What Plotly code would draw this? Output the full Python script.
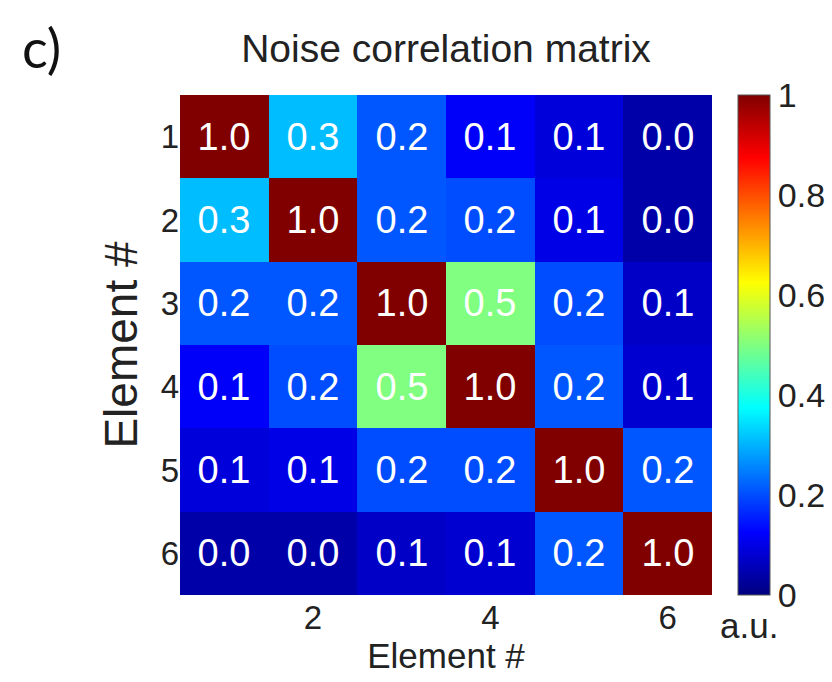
import plotly.graph_objects as go

elements = [1, 2, 3, 4, 5, 6]
x_tick_vals = [2, 4, 6]
cbar_tick_vals = [0, 0.2, 0.4, 0.6, 0.8, 1]
cbar_tick_text = ["0", "0.2", "0.4", "0.6", "0.8", "1"]

row1 = [1.00, 0.31, 0.21, 0.12, 0.09, 0.04]
row2 = [0.31, 1.00, 0.21, 0.20, 0.10, 0.04]
row3 = [0.21, 0.21, 1.00, 0.50, 0.20, 0.07]
row4 = [0.12, 0.20, 0.50, 1.00, 0.21, 0.08]
row5 = [0.09, 0.10, 0.20, 0.20, 1.00, 0.21]
row6 = [0.04, 0.04, 0.07, 0.08, 0.21, 1.00]
z = [row1, row2, row3, row4, row5, row6]

jet = [
    [0.0, "rgb(0,0,128)"],
    [0.125, "rgb(0,0,255)"],
    [0.375, "rgb(0,255,255)"],
    [0.625, "rgb(255,255,0)"],
    [0.875, "rgb(255,0,0)"],
    [1.0, "rgb(128,0,0)"],
]

FONT = "Liberation Sans, Arial, Helvetica, sans-serif"

fig = go.Figure(
    go.Heatmap(
        z=z,
        x=elements,
        y=elements,
        zmin=0,
        zmax=1,
        colorscale=jet,
        texttemplate="%{z:.1f}",
        textfont=dict(family=FONT, size=38, color="white"),
        colorbar=dict(
            x=(738 - 180) / 532,
            xanchor="left",
            xpad=0,
            y=0.5,
            yanchor="middle",
            len=1,
            lenmode="fraction",
            ypad=0,
            thickness=32,
            outlinewidth=1,
            outlinecolor="#555555",
            tickvals=cbar_tick_vals,
            ticktext=cbar_tick_text,
            ticks="",
            tickfont=dict(family=FONT, size=34, color="#222222"),
        ),
        hoverongaps=False,
    )
)

fig.update_layout(
    width=832,
    height=682,
    margin=dict(l=180, r=120, t=95, b=87, autoexpand=False),
    paper_bgcolor="white",
    plot_bgcolor="white",
    font=dict(family=FONT, color="#222222"),
    title=dict(
        text="Noise correlation matrix",
        x=446 / 832,
        xanchor="center",
        y=1 - 48 / 682,
        yanchor="middle",
        font=dict(family=FONT, size=39, color="#222222"),
    ),
    xaxis=dict(
        range=[0.5, 6.5],
        tickvals=x_tick_vals,
        ticks="",
        showgrid=False,
        zeroline=False,
        tickfont=dict(family=FONT, size=33, color="#222222"),
        title=dict(text="Element #", font=dict(family=FONT, size=35, color="#222222"), standoff=6),
    ),
    yaxis=dict(
        range=[6.5, 0.5],
        tickvals=elements,
        ticks="",
        showgrid=False,
        zeroline=False,
        tickfont=dict(family=FONT, size=33, color="#222222"),
        title=dict(text="Element #", font=dict(family=FONT, size=46, color="#222222"), standoff=8),
    ),
    annotations=[
        dict(
            text="c)",
            xref="paper",
            yref="paper",
            x=-160 / 532,
            y=1 + 47 / 500,
            xanchor="left",
            yanchor="middle",
            showarrow=False,
            font=dict(family="Lato, Open Sans, sans-serif", size=54, color="#111111"),
        ),
        dict(
            text="a.u.",
            xref="paper",
            yref="paper",
            x=(749 - 180) / 532,
            y=-30 / 500,
            xanchor="center",
            yanchor="middle",
            showarrow=False,
            font=dict(family=FONT, size=35, color="#222222"),
        ),
    ],
)

fig.write_html(
    "out.html",
    config={"displayModeBar": False},
    post_script="document.body.style.margin='0px';document.body.style.overflow='hidden';",
)
